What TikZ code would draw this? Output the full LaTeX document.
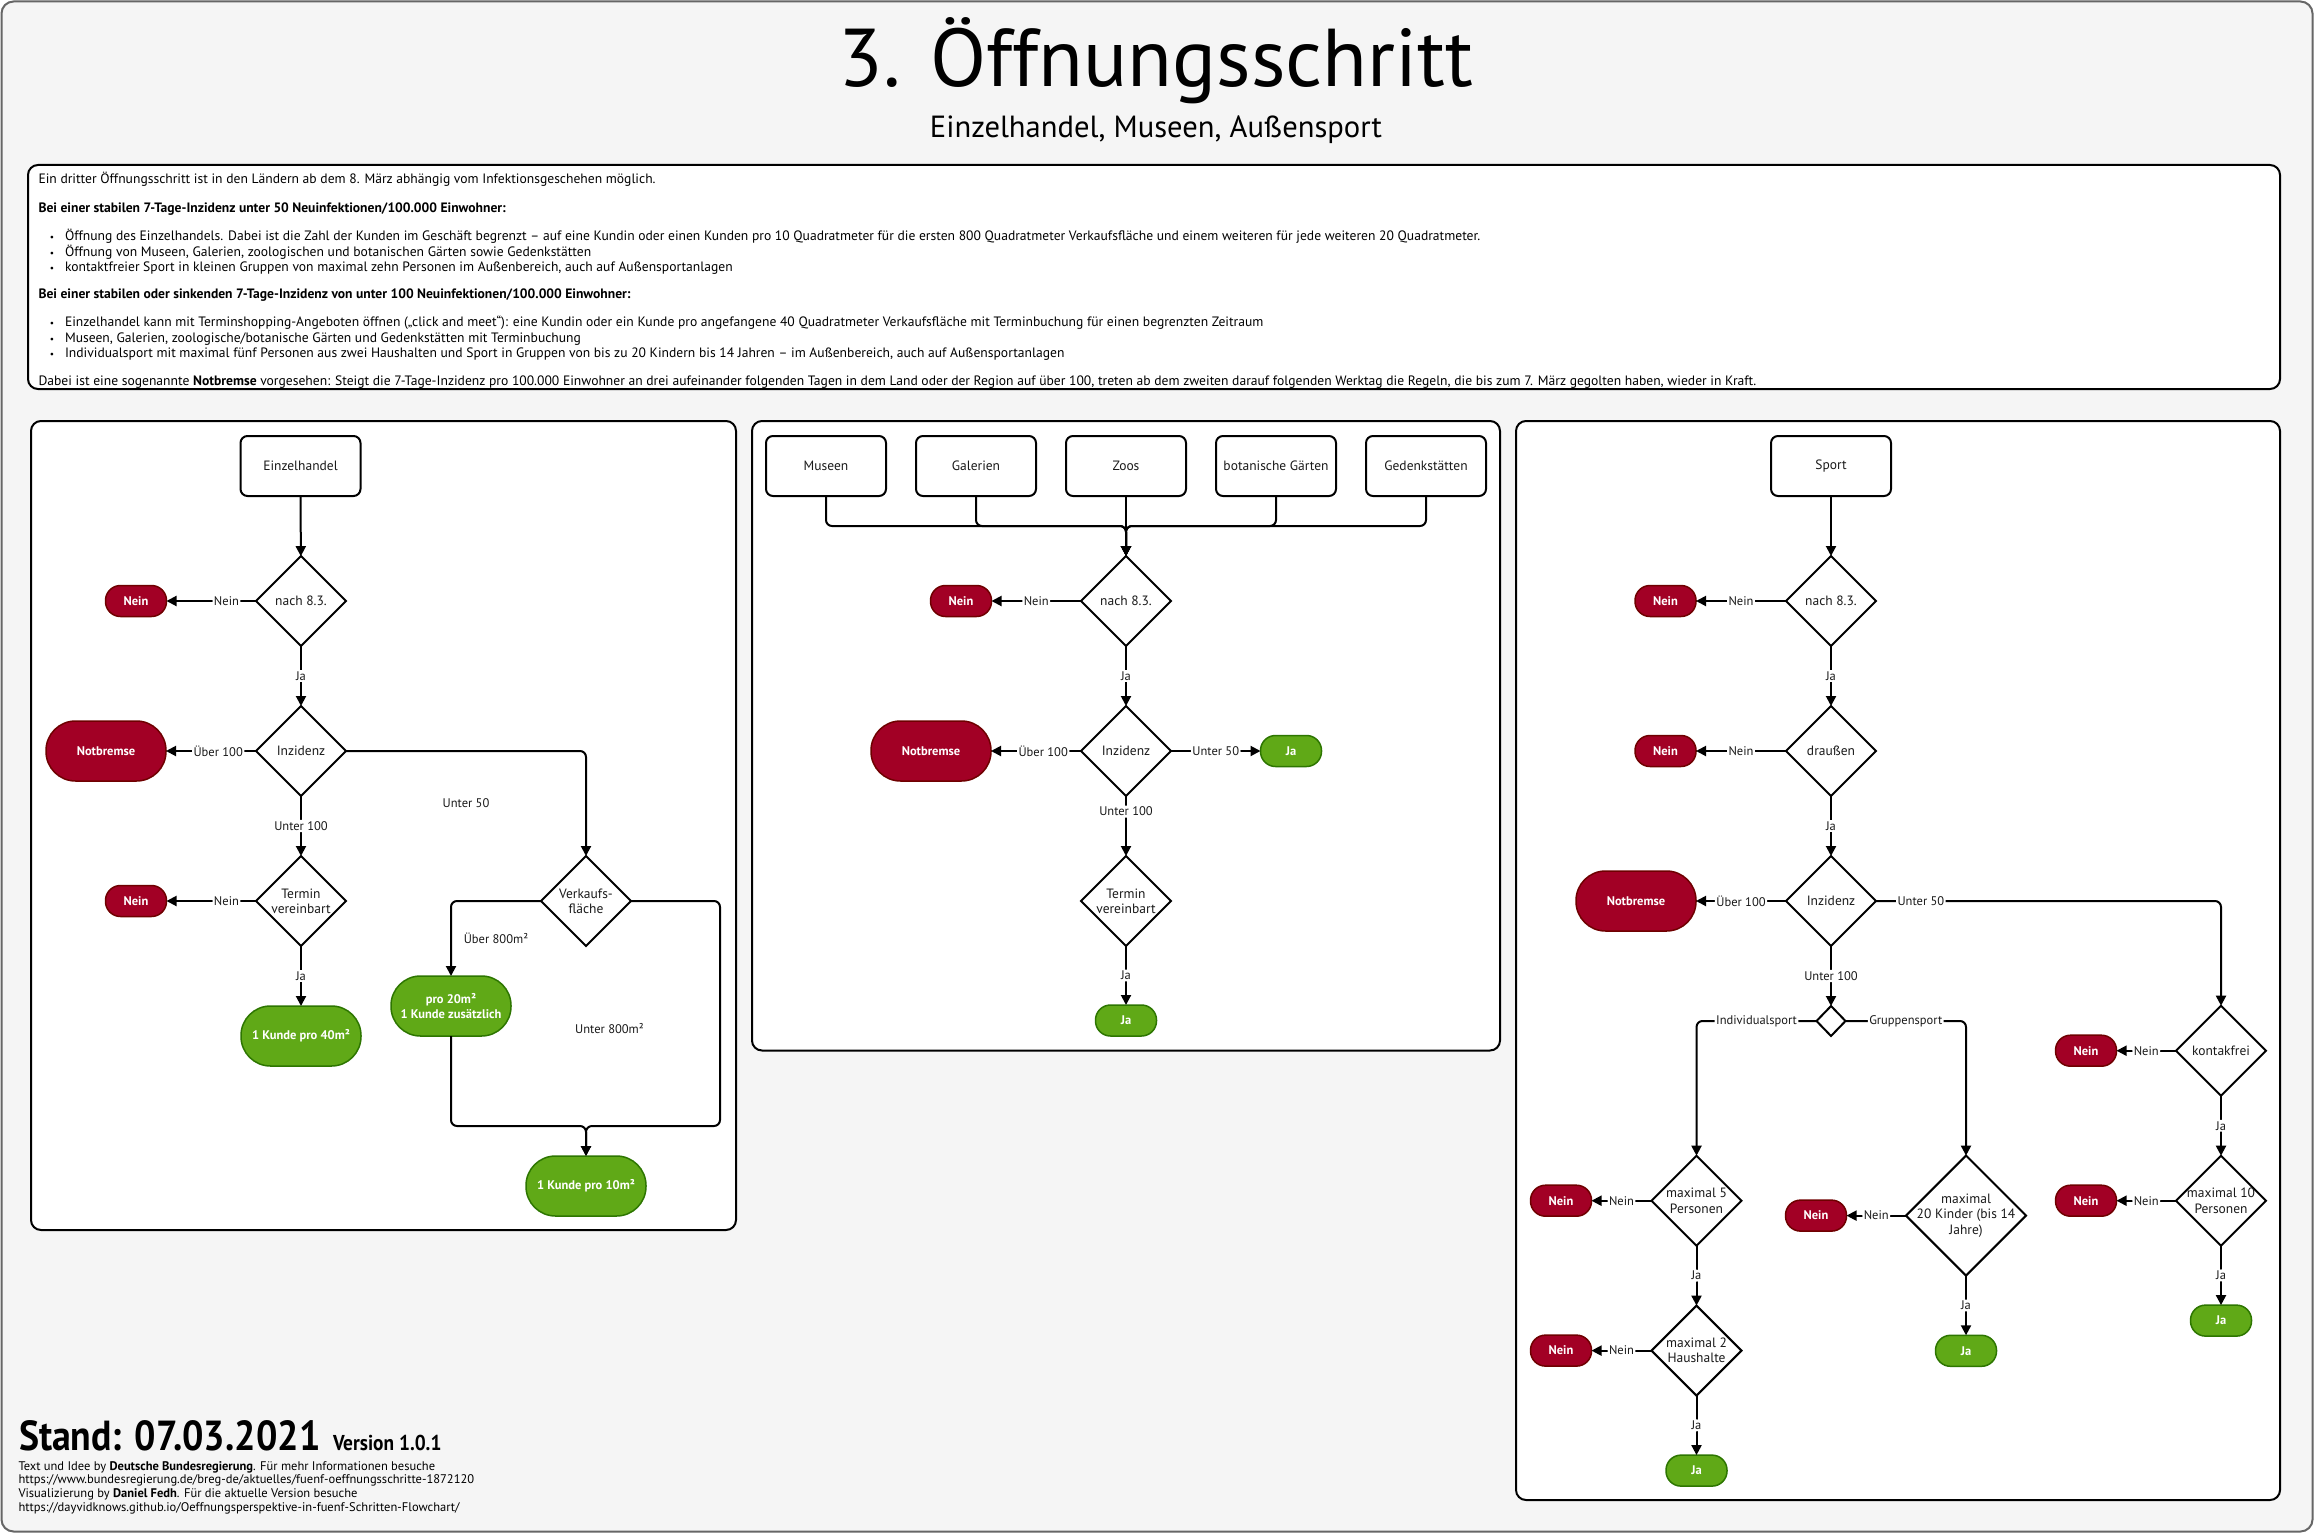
\documentclass[tikz,border=0pt]{standalone}
\usepackage{fontspec}
\setmainfont{PT Sans}
\newfontfamily\narrowfont{PT Sans}[FakeStretch=0.9]
\usetikzlibrary{shapes.geometric,arrows.meta}
\definecolor{bgc}{HTML}{F5F5F5}
\definecolor{brd}{HTML}{666666}
\definecolor{redf}{HTML}{A20025}
\definecolor{redd}{HTML}{6F0000}
\definecolor{grnf}{HTML}{60A917}
\definecolor{grnd}{HTML}{2D7600}
\definecolor{txt}{HTML}{1A1A1A}
\newcommand{\myfs}[2]{\fontsize{#1}{#2}\selectfont}
\begin{document}
\begin{tikzpicture}[x=1pt,y=-1pt,
  every node/.style={inner sep=0pt,outer sep=0pt},
  panel/.style={draw=black,line width=2pt,fill=white,rounded corners=10pt},
  startbox/.style={draw=black,line width=2pt,fill=white,rounded corners=7pt,minimum width=120pt,minimum height=60pt,font=\myfs{13.5}{16},text=txt},
  dia/.style={diamond,draw=black,line width=2pt,fill=white,aspect=1,minimum width=90pt,minimum height=90pt},
  dlabel/.style={label={[align=center,font=\myfs{13.5}{15.3},text=txt]center:#1}},
  redterm/.style={draw=redd,line width=1.5pt,fill=redf,text=white,font=\bfseries\myfs{12.5}{15}},
  nein/.style={redterm,rounded corners=15pt,minimum width=61pt,minimum height=31pt},
  notb/.style={redterm,rounded corners=29.5pt,minimum width=120pt,minimum height=60pt},
  grnterm/.style={draw=grnd,line width=1.5pt,fill=grnf,text=white,font=\bfseries\myfs{12.5}{14.5},align=center},
  jaend/.style={grnterm,rounded corners=15pt,minimum width=61pt,minimum height=31pt},
  bigok/.style={grnterm,rounded corners=29.5pt,minimum width=120pt,minimum height=60pt},
  arr/.style={draw=black,line width=2pt,-{Triangle[length=10pt,width=10pt]},rounded corners=6pt},
  elbl/.style={fill=white,text=txt,font=\myfs{12.5}{14},inner sep=1.5pt},
  flbl/.style={text=txt,font=\myfs{12.5}{14}},
  bodytxt/.style={anchor=base west,font=\myfs{13.6}{15},text=black},
  foottxt/.style={anchor=base west,font=\myfs{12.5}{14},text=black},
  bul/.style={anchor=base,font=\myfs{9.5}{10},text=black}
]
\useasboundingbox (0,0) rectangle (2314,1533);
% background
\draw[draw=brd,fill=bgc,line width=2pt,rounded corners=12pt] (1.5,1.5) rectangle (2312.5,1531.5);

% title
\node[anchor=base,font=\myfs{82}{86},text=black] (title) at (1156,87) {3. Öffnungsschritt};
\node[anchor=base,font=\myfs{30.6}{33},text=black] (subtitle) at (1156,138) {Einzelhandel, Museen, Außensport};

% info box
\draw[panel] (28,165) rectangle (2280,389);
\node[bodytxt] (t1) at (38.5,184) {Ein dritter Öffnungsschritt ist in den Ländern ab dem 8. März abhängig vom Infektionsgeschehen möglich.};
\node[bodytxt] (t2) at (38.5,212) {\bfseries Bei einer stabilen 7-Tage-Inzidenz unter 50 Neuinfektionen/100.000 Einwohner:};
\node[bul] (b3) at (52,240.5) {•};
\node[bodytxt] (t3) at (65,240.5) {Öffnung des Einzelhandels. Dabei ist die Zahl der Kunden im Geschäft begrenzt – auf eine Kundin oder einen Kunden pro 10 Quadratmeter für die ersten 800 Quadratmeter Verkaufsfläche und einem weiteren für jede weiteren 20 Quadratmeter.};
\node[bul] (b4) at (52,256) {•};
\node[bodytxt] (t4) at (65,256) {Öffnung von Museen, Galerien, zoologischen und botanischen Gärten sowie Gedenkstätten};
\node[bul] (b5) at (52,271.5) {•};
\node[bodytxt] (t5) at (65,271.5) {kontaktfreier Sport in kleinen Gruppen von maximal zehn Personen im Außenbereich, auch auf Außensportanlagen};
\node[bodytxt] (t6) at (38.5,298) {\bfseries Bei einer stabilen oder sinkenden 7-Tage-Inzidenz von unter 100 Neuinfektionen/100.000 Einwohner:};
\node[bul] (b7) at (52,326.5) {•};
\node[bodytxt] (t7) at (65,326.5) {Einzelhandel kann mit Terminshopping-Angeboten öffnen („click and meet“): eine Kundin oder ein Kunde pro angefangene 40 Quadratmeter Verkaufsfläche mit Terminbuchung für einen begrenzten Zeitraum};
\node[bul] (b8) at (52,342) {•};
\node[bodytxt] (t8) at (65,342) {Museen, Galerien, zoologische/botanische Gärten und Gedenkstätten mit Terminbuchung};
\node[bul] (b9) at (52,357.5) {•};
\node[bodytxt] (t9) at (65,357.5) {Individualsport mit maximal fünf Personen aus zwei Haushalten und Sport in Gruppen von bis zu 20 Kindern bis 14 Jahren – im Außenbereich, auch auf Außensportanlagen};
\node[bodytxt] (t10) at (38.5,385) {Dabei ist eine sogenannte \textbf{Notbremse} vorgesehen: Steigt die 7-Tage-Inzidenz pro 100.000 Einwohner an drei aufeinander folgenden Tagen in dem Land oder der Region auf über 100, treten ab dem zweiten darauf folgenden Werktag die Regeln, die bis zum 7. März gegolten haben, wieder in Kraft.};

% panels
\draw[panel] (31,421) rectangle (736,1230);
\draw[panel] (752,421) rectangle (1500,1050.5);
\draw[panel] (1516,421) rectangle (2280,1500);

% ---------- Panel 1: Einzelhandel ----------
\node[startbox] (e1) at (300.5,466) {Einzelhandel};
\node[dia,dlabel={nach 8.3.}] (e2) at (301,601) {};
\node[nein] (e2n) at (136,601) {Nein};
\node[dia,dlabel={Inzidenz}] (e3) at (301,751) {};
\node[notb] (e3n) at (106,751) {Notbremse};
\node[dia,dlabel={Termin\\vereinbart}] (e4) at (301,901) {};
\node[nein] (e4n) at (136,901) {Nein};
\node[bigok] (e5) at (301,1036) {1 Kunde pro 40m²};
\node[dia,dlabel={Verkaufs-\\fläche}] (e6) at (586,901) {};
\node[bigok] (e7) at (451,1006) {pro 20m²\\1 Kunde zusätzlich};
\node[bigok] (e8) at (586,1186) {1 Kunde pro 10m²};
\node[flbl] (l50) at (466,803) {Unter 50};
\node[flbl] (l800a) at (496,938) {Über 800m²};
\node[flbl] (l800b) at (609.5,1029) {Unter 800m²};
\coordinate (ec1) at (720,901);
\coordinate (ec2) at (720,1126);
\coordinate (ec3) at (586,1126);

\draw[arr] (e1) -- (e2);
\draw[arr] (e2) -- node[elbl,pos=.33]{Nein} (e2n);
\draw[arr] (e2) -- node[elbl]{Ja} (e3);
\draw[arr] (e3) -- node[elbl,pos=.42]{Über 100} (e3n);
\draw[arr] (e3) -- node[elbl]{Unter 100} (e4);
\draw[arr] (e3.east) -| (e6.north);
\draw[arr] (e4) -- node[elbl,pos=.33]{Nein} (e4n);
\draw[arr] (e4) -- node[elbl]{Ja} (e5);
\draw[arr] (e6.west) -| (e7.north);
\draw[arr] (e6.east) -- (ec1) -- (ec2) -- (ec3) -- (e8.north);
\draw[arr] (e7.south) |- (ec3) -- (e8.north);

% ---------- Panel 2: Museen ----------
\node[startbox] (m1) at (826,466) {Museen};
\node[startbox] (m2) at (976,466) {Galerien};
\node[startbox] (m3) at (1126,466) {Zoos};
\node[startbox] (m4) at (1276,466) {botanische Gärten};
\node[startbox] (m5) at (1426,466) {Gedenkstätten};
\node[dia,dlabel={nach 8.3.}] (m6) at (1126,601) {};
\node[nein] (m6n) at (961,601) {Nein};
\node[dia,dlabel={Inzidenz}] (m7) at (1126,751) {};
\node[notb] (m7n) at (931,751) {Notbremse};
\node[jaend] (m7j) at (1291,751) {Ja};
\node[dia,dlabel={Termin\\vereinbart}] (m8) at (1126,901) {};
\node[jaend] (m8j) at (1126,1020.5) {Ja};
\coordinate (mj) at (1126,526);

\draw[arr] (m1.south) |- (mj) -- (m6.north);
\draw[arr] (m2.south) |- (mj) -- (m6.north);
\draw[arr] (m4.south) |- (mj) -- (m6.north);
\draw[arr] (m5.south) |- (mj) -- (m6.north);
\draw[arr] (m3) -- (m6);
\draw[arr] (m6) -- node[elbl]{Nein} (m6n);
\draw[arr] (m6) -- node[elbl]{Ja} (m7);
\draw[arr] (m7) -- node[elbl,pos=.42]{Über 100} (m7n);
\draw[arr] (m7) -- node[elbl]{Unter 50} (m7j);
\draw[arr] (m7) -- node[elbl,pos=.26]{Unter 100} (m8);
\draw[arr] (m8) -- node[elbl]{Ja} (m8j);

% ---------- Panel 3: Sport ----------
\node[startbox] (s1) at (1831,466) {Sport};
\node[dia,dlabel={nach 8.3.}] (s2) at (1831,601) {};
\node[nein] (s2n) at (1665.5,601) {Nein};
\node[dia,dlabel={draußen}] (s3) at (1831,751) {};
\node[nein] (s3n) at (1665.5,751) {Nein};
\node[dia,dlabel={Inzidenz}] (s4) at (1831,901) {};
\node[notb] (s4n) at (1636,901) {Notbremse};
\node[dia,minimum width=29pt,minimum height=30pt] (s5) at (1831,1021) {};
\node[dia,dlabel={maximal 5\\Personen}] (s6) at (1696.5,1200.7) {};
\node[nein] (s6n) at (1561,1200.7) {Nein};
\node[dia,dlabel={maximal 2\\Haushalte}] (s7) at (1696.5,1350.6) {};
\node[nein] (s7n) at (1561,1350.6) {Nein};
\node[jaend] (s7j) at (1696.5,1470.6) {Ja};
\node[dia,minimum width=120pt,minimum height=120pt,dlabel={maximal\\20 Kinder (bis 14\\Jahre)}] (s8) at (1966,1215.6) {};
\node[nein] (s8n) at (1816,1215.6) {Nein};
\node[jaend] (s8j) at (1966,1350.8) {Ja};
\node[dia,dlabel={kontakfrei}] (s9) at (2221,1050.7) {};
\node[nein] (s9n) at (2086,1050.7) {Nein};
\node[dia,dlabel={maximal 10\\Personen}] (s10) at (2221,1200.7) {};
\node[nein] (s10n) at (2086,1200.7) {Nein};
\node[jaend] (s10j) at (2221,1320.6) {Ja};

\draw[arr] (s1) -- (s2);
\draw[arr] (s2) -- node[elbl]{Nein} (s2n);
\draw[arr] (s2) -- node[elbl]{Ja} (s3);
\draw[arr] (s3) -- node[elbl]{Nein} (s3n);
\draw[arr] (s3) -- node[elbl]{Ja} (s4);
\draw[arr] (s4) -- node[elbl]{Über 100} (s4n);
\draw[arr] (s4.east) -| node[elbl,pos=.065]{Unter 50} (s9.north);
\draw[arr] (s4) -- node[elbl]{Unter 100} (s5);
\draw[arr] (s5.west) -| node[elbl,pos=.25]{Individualsport} (s6.north);
\draw[arr] (s5.east) -| node[elbl,pos=.25]{Gruppensport} (s8.north);
\draw[arr] (s6) -- node[elbl]{Nein} (s6n);
\draw[arr] (s6) -- node[elbl]{Ja} (s7);
\draw[arr] (s7) -- node[elbl]{Nein} (s7n);
\draw[arr] (s7) -- node[elbl]{Ja} (s7j);
\draw[arr] (s8) -- node[elbl]{Nein} (s8n);
\draw[arr] (s8) -- node[elbl]{Ja} (s8j);
\draw[arr] (s9) -- node[elbl]{Nein} (s9n);
\draw[arr] (s9) -- node[elbl]{Ja} (s10);
\draw[arr] (s10) -- node[elbl]{Nein} (s10n);
\draw[arr] (s10) -- node[elbl]{Ja} (s10j);

% footer
\node[anchor=base west,text=black] (stand) at (19,1450) {\narrowfont\bfseries\myfs{42}{44}Stand: 07.03.2021};
\node[anchor=base west,text=black] (version) at (333,1450) {\narrowfont\bfseries\myfs{21.5}{24}Version 1.0.1};
\node[foottxt] (f1) at (18.5,1470) {Text und Idee by \textbf{Deutsche Bundesregierung}. Für mehr Informationen besuche};
\node[foottxt] (f2) at (18.5,1483.7) {https://www.bundesregierung.de/breg-de/aktuelles/fuenf-oeffnungsschritte-1872120};
\node[foottxt] (f3) at (18.5,1497.4) {Visualizierung by \textbf{Daniel Fedh}. Für die aktuelle Version besuche};
\node[foottxt] (f4) at (18.5,1511) {https://dayvidknows.github.io/Oeffnungsperspektive-in-fuenf-Schritten-Flowchart/};
\end{tikzpicture}
\end{document}
